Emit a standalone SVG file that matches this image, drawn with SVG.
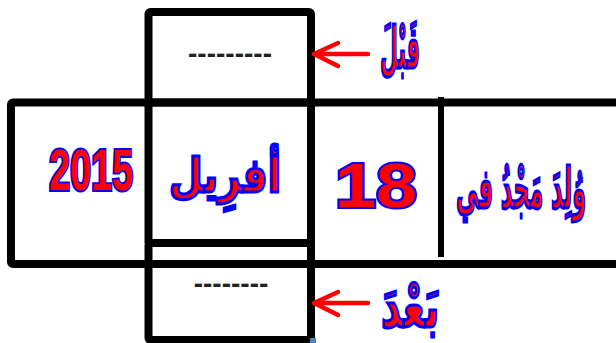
<svg xmlns="http://www.w3.org/2000/svg" width="616" height="343" viewBox="0 0 616 343">
<style>
.box{fill:none;stroke:#000;stroke-width:8;stroke-linejoin:round}
.div{fill:none;stroke:#000;stroke-width:6}
.dash{font-family:"Liberation Sans",Arial,sans-serif;font-weight:bold;font-size:28px;fill:#222;text-anchor:middle}
.num{font-family:"Liberation Sans",Arial,sans-serif;font-weight:bold;fill:#ff0000;stroke:#0000ff;stroke-width:4;paint-order:stroke;text-anchor:middle}
.ar{font-family:"DejaVu Sans","Noto Sans",sans-serif;font-weight:bold;fill:#ff0000;stroke:#0000ff;stroke-width:3;text-anchor:middle}
.arrow{fill:none;stroke:#ff0000;stroke-width:4.5;stroke-linecap:round;stroke-linejoin:round}
</style>
<rect width="616" height="343" fill="#fff"/>
<g id="row">
<rect class="box" x="11" y="102.5" width="640" height="161.5" rx="2"/>
<line class="box" x1="148.5" y1="102" x2="148.5" y2="243"/>
<line class="box" x1="311" y1="102" x2="311" y2="264"/>
</g>
<g id="top-box">
<rect class="box" x="148.5" y="12" width="162.5" height="90.5" rx="2"/>
<text class="dash" x="230" y="63">---------</text>
</g>
<g id="bottom-box">
<rect class="box" x="148.5" y="243" width="162.5" height="97" rx="2"/>
<text class="dash" x="231" y="293">--------</text>
</g>
<g id="year">
<text class="num" x="91" y="190" font-size="58" textLength="84" lengthAdjust="spacingAndGlyphs">2015</text>
</g>
<g id="month">
<text class="ar" x="225" y="192" font-size="48" textLength="112" lengthAdjust="spacingAndGlyphs">أفرِيل</text>
</g>
<g id="day">
<text class="num" x="376" y="207" font-size="63" textLength="82" lengthAdjust="spacingAndGlyphs">18</text>
</g>
<g id="born">
<line class="div" x1="441" y1="97" x2="441" y2="257"/>
<text class="ar" transform="translate(521,208) scale(0.5,1)" x="0" y="0" font-size="56" stroke-width="2.2" textLength="260" lengthAdjust="spacingAndGlyphs">وُلِدَ مَجْدُ في</text>
</g>
<g id="connectors">
<path class="arrow" d="M368 54H314M338 43L314 54L338 66"/>
<path class="arrow" d="M368 303H314M338 292L314 303L338 315"/>
</g>
<g id="labels">
<text class="ar" x="400" y="68" font-size="58" textLength="40" lengthAdjust="spacingAndGlyphs">قَبْلَ</text>
<text class="ar" x="410" y="327" font-size="58" textLength="58" lengthAdjust="spacingAndGlyphs">بَعْدَ</text>
</g>
<rect x="310" y="338" width="6" height="5" fill="#4f81bd"/>
</svg>
